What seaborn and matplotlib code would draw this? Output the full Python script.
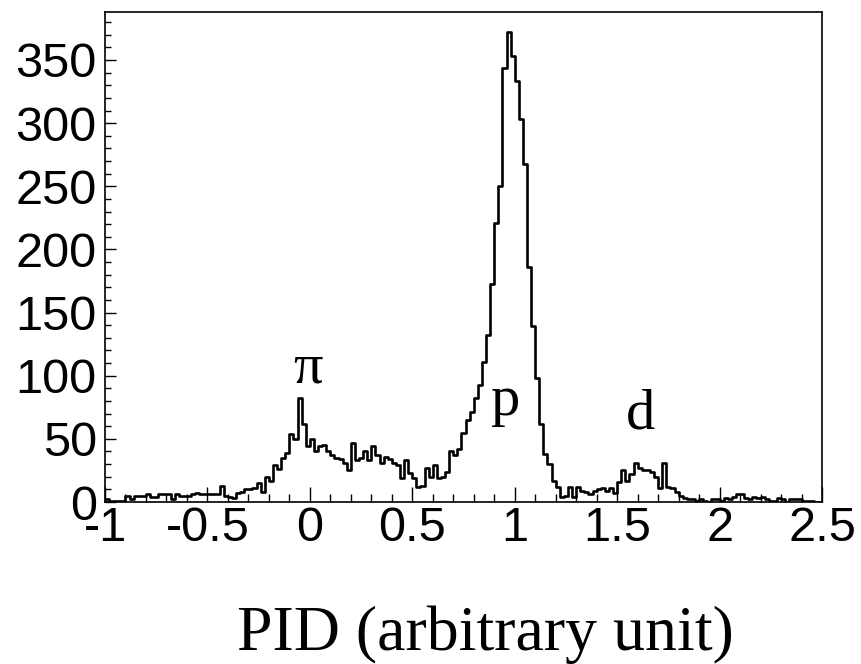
import numpy as np
import pandas as pd
import matplotlib
matplotlib.use("Agg")
import matplotlib.pyplot as plt
import seaborn as sns
from matplotlib.ticker import MultipleLocator

# ---- data: histogram of PID, bin width 0.02 from -1 to 2.5 ----
bin_start = -1.0
bin_end = 2.5
bin_width = 0.02
n_bins = 175

counts_a = [2, 1, 1, 1, 1, 5, 2, 5, 5, 5, 6, 4, 4, 6, 6, 6, 2, 6, 5, 5,
            5, 6, 7, 6, 6, 6, 6, 6, 13, 5]                     # -1.00 .. -0.42
counts_b = [4, 3, 7, 8, 10, 10, 11, 15, 8, 20, 17, 29, 26, 35, 39, 54, 50,
            82, 62, 44, 50, 40, 44, 45, 40, 37, 35]             # -0.40 .. 0.12
counts_c = [34, 31, 25, 47, 33, 35, 40, 33, 44, 37, 31, 36, 34, 31, 29, 19,
            33, 23, 19, 12, 13, 27, 20, 29, 19]                 # 0.14 .. 0.62
counts_d = [20, 24, 40, 37, 42, 55, 65, 71, 82, 93, 111, 132, 173, 221, 250,
            344, 372, 353, 333, 303, 268, 186, 139, 98, 62, 38, 30, 17, 12]  # 0.64 .. 1.20
counts_e = [4, 5, 12, 4, 12, 9, 8, 6, 9, 10, 11, 9, 11, 7, 16, 25, 17, 22,
            31, 27, 25, 25, 24, 20, 11, 31, 12, 11, 8, 5, 3, 2, 2, 1]  # 1.22 .. 1.88
counts_f = [2, 1, 0, 2, 2, 1, 3, 2, 4, 6, 6, 3, 2, 4, 3, 4, 2, 1, 1, 3,
            2, 0, 2, 2, 2, 1, 1, 1, 0, 0]                       # 1.90 .. 2.48

counts = counts_a + counts_b + counts_c + counts_d + counts_e + counts_f

x_ticks = [-1, -0.5, 0, 0.5, 1, 1.5, 2, 2.5]
x_tick_labels = ["-1", "-0.5", "0", "0.5", "1", "1.5", "2", "2.5"]
y_ticks = [0, 50, 100, 150, 200, 250, 300, 350]

peak_labels = ["\u03c0", "p", "d"]
peak_label_x = [-0.01, 0.955, 1.615]
peak_label_y = [95, 69, 58]

xlabel_text = "PID (arbitrary unit)"

# ---- build table ----
centers = bin_start + bin_width * (np.arange(n_bins) + 0.5)
df = pd.DataFrame({"pid": centers, "count": counts})

sns.set_style("ticks")
plt.rcParams["font.family"] = ["Liberation Sans", "DejaVu Sans"]
plt.rcParams["axes.unicode_minus"] = False
plt.rcParams["text.color"] = "black"
plt.rcParams["xtick.color"] = "black"
plt.rcParams["ytick.color"] = "black"
plt.rcParams["xtick.labelcolor"] = "black"
plt.rcParams["ytick.labelcolor"] = "black"

fig = plt.figure(figsize=(8.61, 6.64), dpi=100)
ax = fig.add_axes([105 / 861, 1 - 502 / 664, (822 - 105) / 861, (502 - 12) / 664])

sns.histplot(data=df, x="pid", weights="count", binwidth=bin_width,
             binrange=(bin_start, bin_end), element="step",
             fill=False, color="black", linewidth=1.9, ax=ax)

ax.set_xlim(-1, 2.5)
ax.set_ylim(0, 388)
ax.set_xticks(x_ticks)
ax.set_xticklabels(x_tick_labels)
ax.set_yticks(y_ticks)
ax.xaxis.set_minor_locator(MultipleLocator(0.1))
ax.yaxis.set_minor_locator(MultipleLocator(10))
ax.tick_params(axis="x", which="major", direction="in", length=11, width=1,
               labelsize=35, pad=3, colors="black")
ax.tick_params(axis="x", which="minor", direction="in", length=5.5, width=1,
               colors="black")
ax.tick_params(axis="y", which="major", direction="in", length=8, width=1,
               labelsize=35, pad=6, colors="black")
ax.tick_params(axis="y", which="minor", direction="in", length=4.3, width=1,
               colors="black")
for s in ax.spines.values():
    s.set_linewidth(1.2)
    s.set_color("black")
ax.set_xlabel("")
ax.set_ylabel("")

for t, xx, yy in zip(peak_labels, peak_label_x, peak_label_y):
    ax.text(xx, yy, t, ha="center", va="baseline", fontsize=42, color="black",
            family=["Liberation Serif", "DejaVu Serif"])

fig.text(485 / 861, 14 / 664, xlabel_text, ha="center", va="baseline",
         fontsize=46, color="black", family=["Liberation Serif", "DejaVu Serif"])

fig.savefig("out.png", dpi=100)
